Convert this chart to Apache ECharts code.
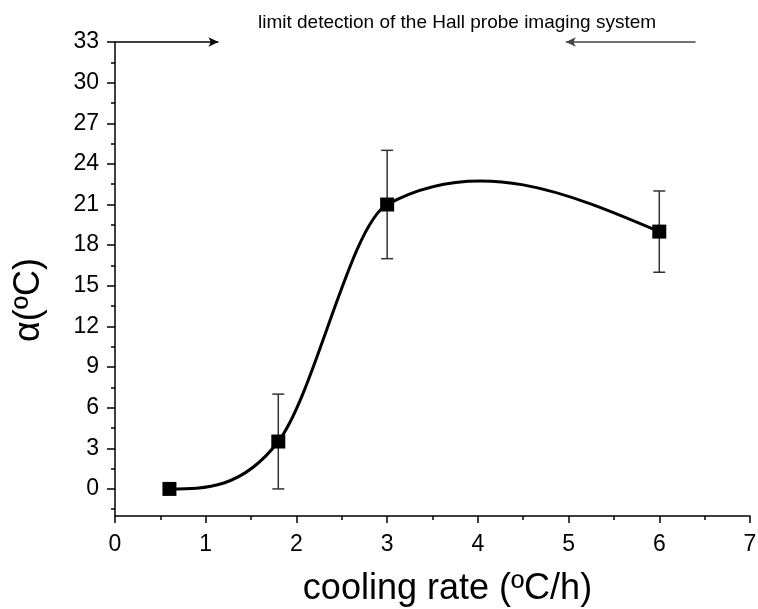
<!DOCTYPE html>
<html><head><meta charset="utf-8">
<script src="https://cdn.jsdelivr.net/npm/echarts@6/dist/echarts.min.js"></script>
<style>html,body{margin:0;padding:0;background:#fff}#c{width:758px;height:609px}</style>
</head><body><div id="c"></div>
<script>
const coolingRate = [0.6, 1.8, 3, 6];
const alphaVals = [0, 3.5, 21, 19];
const errLow = [0, 0, 17, 16];
const errHigh = [0, 7, 25, 22];
const yMajorTicks = [0,3,6,9,12,15,18,21,24,27,30,33];
const yMinorTicks = [-1.5,1.5,4.5,7.5,10.5,13.5,16.5,19.5,22.5,25.5,28.5,31.5];
const arrowLeft = [[0,33],[1.14,33]];
const arrowRight = [[6.4,33],[4.97,33]];
const annotation = 'limit detection of the Hall probe imaging system';
const xName = 'cooling rate (ºC/h)';
const yName = 'α(ºC)';

const FONT = 'Liberation Sans, Arial, sans-serif';
const n = coolingRate.length;
// Hermite tangents: interior = centred difference, ends = zero curvature end condition
const tangents = coolingRate.map((x,i)=>{
  if (i>0 && i<n-1) return (alphaVals[i+1]-alphaVals[i-1])/(coolingRate[i+1]-coolingRate[i-1]);
  if (i===0) {
    const s=(alphaVals[1]-alphaVals[0])/(coolingRate[1]-coolingRate[0]);
    const m1=(alphaVals[2]-alphaVals[0])/(coolingRate[2]-coolingRate[0]);
    return (3*s-m1)/2;
  }
  const s=(alphaVals[n-1]-alphaVals[n-2])/(coolingRate[n-1]-coolingRate[n-2]);
  const m1=(alphaVals[n-1]-alphaVals[n-3])/(coolingRate[n-1]-coolingRate[n-3]);
  return (3*s-m1)/2;
});

const chart = echarts.init(document.getElementById('c'));
const errData = coolingRate.map((x,i)=>[x, errLow[i], errHigh[i]]).filter(d=>d[1]!==d[2]);
const curveData = coolingRate.slice(0,n-1).map((x,i)=>[x, alphaVals[i], coolingRate[i+1], alphaVals[i+1], tangents[i], tangents[i+1]]);
const axisStyle = {color:'#000',width:1.5};
chart.setOption({
  animation:false,
  grid:{left:115,right:8,top:42,bottom:93,containLabel:false,outerBoundsMode:'none'},
  xAxis:{type:'value',min:0,max:7,interval:1,
    name:xName,nameLocation:'middle',nameGap:55,
    nameTextStyle:{fontSize:36,color:'#000',fontFamily:FONT,padding:[0,0,0,30]},
    axisLine:{onZero:false,lineStyle:axisStyle},
    axisTick:{show:true,length:7,lineStyle:axisStyle},
    minorTick:{show:true,splitNumber:2,length:4,lineStyle:axisStyle},
    axisLabel:{fontSize:23,color:'#000',fontFamily:FONT,margin:17},
    splitLine:{show:false},minorSplitLine:{show:false}},
  yAxis:[{type:'value',min:-2,max:33,
    axisLine:{show:true,onZero:false,lineStyle:axisStyle},
    axisTick:{show:true,length:8,customValues:yMajorTicks,lineStyle:axisStyle},
    axisLabel:{fontSize:23,color:'#000',fontFamily:FONT,margin:16,customValues:yMajorTicks},
    splitLine:{show:false}},
   {type:'value',min:-2,max:33,position:'left',
    axisLine:{show:false,onZero:false},
    axisTick:{show:true,length:4,customValues:yMinorTicks,lineStyle:axisStyle},
    axisLabel:{show:false},splitLine:{show:false}}],
  graphic:[
    {type:'text',left:258,top:13,style:{text:annotation,fontSize:19,fill:'#000',fontFamily:FONT}},
    {type:'text',x:29,y:300,rotation:Math.PI/2,
      style:{text:yName,fontSize:36,fill:'#000',fontFamily:FONT,align:'center',verticalAlign:'middle'}}
  ],
  series:[
    {type:'custom',data:curveData,z:3,silent:true,
      renderItem:function(params,api){
        const x0=api.value(0),y0=api.value(1),x1=api.value(2),y1=api.value(3),m0=api.value(4),m1=api.value(5);
        const h=x1-x0;
        const p0=api.coord([x0,y0]), p1=api.coord([x1,y1]);
        const c0=api.coord([x0+h/3, y0+m0*h/3]);
        const c1=api.coord([x1-h/3, y1-m1*h/3]);
        return {type:'bezierCurve',
          shape:{x1:p0[0],y1:p0[1],x2:p1[0],y2:p1[1],cpx1:c0[0],cpy1:c0[1],cpx2:c1[0],cpy2:c1[1]},
          style:{stroke:'#000',lineWidth:3,fill:null}};
      }},
    {type:'custom',data:errData,z:2,silent:true,
      renderItem:function(params,api){
        const x=api.value(0);
        const lo=api.coord([x,api.value(1)]);
        const hi=api.coord([x,api.value(2)]);
        const w=6;
        const st={stroke:'#333',lineWidth:1.5};
        return {type:'group',children:[
          {type:'line',shape:{x1:lo[0],y1:lo[1],x2:hi[0],y2:hi[1]},style:st},
          {type:'line',shape:{x1:lo[0]-w,y1:lo[1],x2:lo[0]+w,y2:lo[1]},style:st},
          {type:'line',shape:{x1:hi[0]-w,y1:hi[1],x2:hi[0]+w,y2:hi[1]},style:st}
        ]};
      }},
    {type:'scatter',data:coolingRate.map((x,i)=>[x,alphaVals[i]]),
      symbol:'rect',symbolSize:14,itemStyle:{color:'#000',opacity:1},z:4,
      markLine:{silent:true,symbol:['none','arrow'],symbolSize:[7,10],
        lineStyle:{color:'#000',width:1.5,type:'solid',opacity:1},label:{show:false},
        data:[
          [{coord:arrowLeft[0]},{coord:arrowLeft[1]}],
          [{coord:arrowRight[0],lineStyle:{color:'#444'}},{coord:arrowRight[1]}]
        ]}}
  ]
});
</script></body></html>
